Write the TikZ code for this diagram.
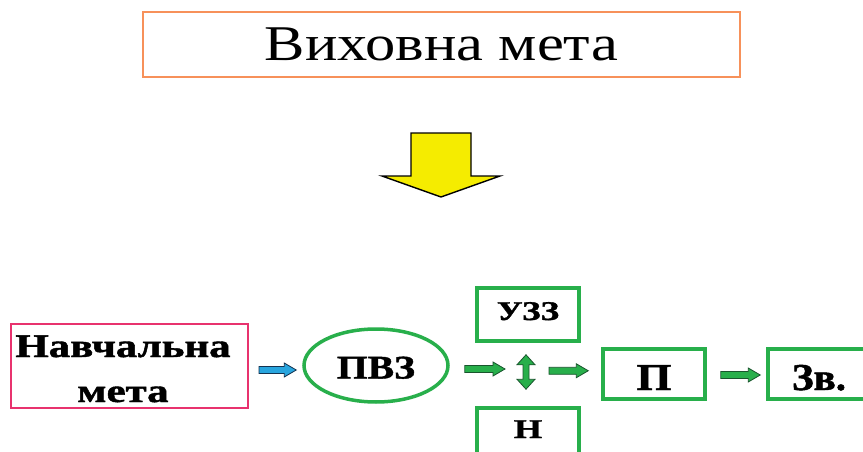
\documentclass[tikz,border=0pt]{standalone}
\usepackage{fontspec}
\setmainfont{Liberation Serif}[BoldFeatures={FakeBold=1.2}]
\usetikzlibrary{calc,shapes.geometric}

\definecolor{tborange}{RGB}{247,145,90}
\definecolor{bxpink}{RGB}{232,50,110}
\definecolor{bxgreen}{RGB}{40,175,75}
\definecolor{arrgreenedge}{RGB}{25,85,45}
\definecolor{arrblue}{RGB}{40,165,222}
\definecolor{arrblueedge}{RGB}{20,50,80}
\definecolor{arryellow}{RGB}{245,236,0}

% horizontal block arrow from #1 to the point of #2 level with #1
\newcommand\hblock[3]{%
  \path[#3] let \p1=(#1), \p2=(#2 |- #1) in
    (\x1,\y1+3.5pt) -- (\x2-12pt,\y1+3.5pt) -- (\x2-12pt,\y1+7pt) -- (\x2,\y1)
    -- (\x2-12pt,\y1-7pt) -- (\x2-12pt,\y1-3.5pt) -- (\x1,\y1-3.5pt) -- cycle;}
% vertical double-headed block arrow from #1 (top) down to the level of #2
\newcommand\vdblock[3]{%
  \path[#3] let \p1=(#1), \p2=(#1 |- #2) in
    (\x1,\y1) -- (\x1+9pt,\y1-10pt) -- (\x1+3pt,\y1-10pt) -- (\x1+3pt,\y2+10pt)
    -- (\x1+9pt,\y2+10pt) -- (\x1,\y2) -- (\x1-9pt,\y2+10pt) -- (\x1-3pt,\y2+10pt)
    -- (\x1-3pt,\y1-10pt) -- (\x1-9pt,\y1-10pt) -- cycle;}

\tikzset{
  titlebox/.style={draw=tborange, line width=2pt, rectangle, inner sep=0pt,
    minimum width=597pt, minimum height=65pt, text height=33pt, text depth=0pt},
  pinkbox/.style={draw=bxpink, line width=2pt, rectangle, inner sep=0pt,
    minimum width=237pt, minimum height=84pt},
  greenbox/.style={draw=bxgreen, line width=3.5pt, rectangle, inner sep=0pt,
    minimum width=102pt, font=\bfseries},
  greenoval/.style={draw=bxgreen, line width=3.5pt, ellipse, inner sep=0pt,
    minimum width=144pt, minimum height=73pt, font=\bfseries},
  greenarrow/.style={fill=bxgreen, draw=arrgreenedge, line width=0.8pt},
  bluearrow/.style={fill=arrblue, draw=arrblueedge, line width=0.8pt},
}

\begin{document}
\begin{tikzpicture}[x=1pt,y=-1pt]
  \useasboundingbox (0,0) rectangle (863,452);
  \fill[white] (0,0) rectangle (863,452);

  % heading
  \node[titlebox] (title) at (441.5,44.5)
    {\fontsize{50}{60}\selectfont\scalebox{1.21}[1]{Виховна мета}};

  % big yellow down arrow
  \filldraw[fill=arryellow, draw=black, line width=1.4pt, line join=miter]
    (411,133) -- (471,133) -- (471,176) -- (500,176) -- (441,197)
    -- (382,176) -- (411,176) -- cycle;

  % chain of boxes
  \node[pinkbox] (goal) at (129.5,366) {};
  \node[inner sep=0pt, font=\bfseries] (goaltext) at (123,370.5)
    {\fontsize{33}{45}\selectfont\scalebox{1.3}[1]{\begin{tabular}{@{}c@{}}Навчальна\\мета\end{tabular}}};

  \node[greenoval, text height=26pt, text depth=0pt] (pvz) at (376,365.5)
    {\fontsize{33}{40}\selectfont\scalebox{1.2}[1]{ПВЗ}};

  \node[greenbox, minimum height=53pt, text height=18pt, text depth=7pt] (uzz) at (528,314.5)
    {\fontsize{27}{32}\selectfont\scalebox{1.3}[1]{УЗЗ}};
  \node[greenbox, minimum height=53pt, text height=18pt, text depth=11pt] (n) at (528,434.5)
    {\fontsize{27}{32}\selectfont\scalebox{1.35}[1]{Н}};

  \node[greenbox, minimum height=50pt, text height=32pt, text depth=0pt] (p) at (654,374)
    {\fontsize{38}{45}\selectfont\scalebox{1.18}[1]{П}};
  \node[greenbox, minimum height=50pt, text height=32pt, text depth=0pt] (zv) at (819,374)
    {\fontsize{38}{45}\selectfont\scalebox{1.08}[1]{Зв.}};

  % connectors
  \coordinate (a0s) at ($(goal.east)+(10,4)$);
  \coordinate (a0e) at ($(pvz.west)+(-6,0)$);
  \hblock{a0s}{a0e}{bluearrow}

  \coordinate (a1s) at ($(pvz.east)+(15,3.5)$);
  \coordinate (a1e) at ($(uzz.south)+(-23,0)$);
  \hblock{a1s}{a1e}{greenarrow}

  \coordinate (v1) at ($(uzz.south)+(-2,12)$);
  \coordinate (v2) at ($(n.north)+(-2,-17)$);
  \vdblock{v1}{v2}{greenarrow}

  \coordinate (a2s) at ($(uzz.south)+(21,28)$);
  \coordinate (a2e) at ($(p.west)+(-13,0)$);
  \hblock{a2s}{a2e}{greenarrow}

  \coordinate (a3s) at ($(p.east)+(14,1)$);
  \coordinate (a3e) at ($(zv.west)+(-6,0)$);
  \hblock{a3s}{a3e}{greenarrow}
\end{tikzpicture}
\end{document}
